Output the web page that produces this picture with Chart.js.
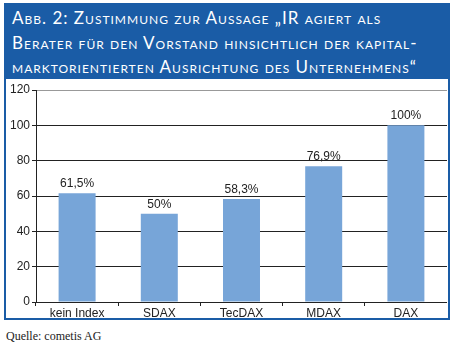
<!DOCTYPE html>
<html>
<head>
<meta charset="utf-8">
<script src="https://cdn.jsdelivr.net/npm/chart.js@4/dist/chart.umd.min.js"></script>
<style>
  html, body { margin:0; padding:0; background:#fff; }
  body { width:454px; height:355px; position:relative; overflow:hidden; }
  #frame { position:absolute; left:4px; top:3px; width:442px; height:315px; border:2.5px solid #1a5ca6; border-top:0; }
  #header { position:absolute; left:4px; top:3px; width:446px; height:76px; background:#1a5ca6; color:#fff;
    font-family:"Lato","Open Sans",sans-serif; font-variant:small-caps; font-size:17px; letter-spacing:1px;
    line-height:24.5px; box-sizing:border-box; padding:3px 0 0 8px; white-space:nowrap; }
  #wrap { position:absolute; left:6px; top:79px; width:441px; height:240px; }
  #source { position:absolute; left:6px; top:329px; font-family:"Liberation Serif","DejaVu Serif",serif; font-size:12px; color:#222; }
</style>
</head>
<body>
<div id="frame"></div>
<div id="header">Abb. 2: Zustimmung zur Aussage „IR agiert als<br>Berater für den Vorstand hinsichtlich der kapital-<br>marktorientierten Ausrichtung des Unternehmens“</div>
<div id="wrap"><canvas id="c" width="441" height="240"></canvas></div>
<div id="source">Quelle: cometis AG</div>
<script>
const categories = ["kein Index", "SDAX", "TecDAX", "MDAX", "DAX"];
const values = [61.5, 50, 58.3, 76.9, 100];
const valueLabels = ["61,5%", "50%", "58,3%", "76,9%", "100%"];
const yTicks = [0, 20, 40, 60, 80, 100, 120];

const labelPlugin = {
  id: 'valueLabels',
  afterDatasetsDraw(chart) {
    const ctx = chart.ctx;
    const meta = chart.getDatasetMeta(0);
    ctx.save();
    ctx.font = '12px "Liberation Sans", Arial, sans-serif';
    ctx.fillStyle = '#222';
    ctx.textAlign = 'center';
    ctx.textBaseline = 'alphabetic';
    meta.data.forEach((bar, i) => {
      ctx.fillText(valueLabels[i], bar.x, bar.y - 6);
    });
    ctx.restore();
  }
};

new Chart(document.getElementById('c'), {
  type: 'bar',
  data: {
    labels: categories,
    datasets: [{
      data: values,
      backgroundColor: '#77a5d8',
      borderWidth: 0,
      barPercentage: 0.9,
      categoryPercentage: 0.5
    }]
  },
  options: {
    responsive: false,
    animation: false,
    events: [],
    layout: { padding: { top: 11, right: 0, left: 0, bottom: 0 } },
    plugins: { legend: { display: false }, tooltip: { enabled: false }, title: { display: false } },
    scales: {
      x: {
        grid: { display: true, drawOnChartArea: false, drawTicks: true, tickLength: 4, color: '#222', offset: true },
        border: { display: true, color: '#222', width: 1 },
        ticks: { color: '#222', font: { family: '"Liberation Sans", Arial, sans-serif', size: 12 }, padding: 0, maxRotation: 0 },
        afterFit(scale) { scale.height = 17; }
      },
      y: {
        min: 0, max: 120,
        afterBuildTicks(scale) { scale.ticks = yTicks.map(v => ({ value: v })); },
        grid: {
          color: (c) => (c.tick && c.tick.value === 120) ? '#999' : '#222',
          tickColor: '#222',
          drawTicks: true, tickLength: 4, lineWidth: 1
        },
        border: { display: true, color: '#222', width: 1 },
        ticks: { color: '#222', font: { family: '"Liberation Sans", Arial, sans-serif', size: 12 }, padding: 2 },
        afterFit(scale) { scale.width = 30; }
      }
    }
  },
  plugins: [labelPlugin]
});
</script>
</body>
</html>
